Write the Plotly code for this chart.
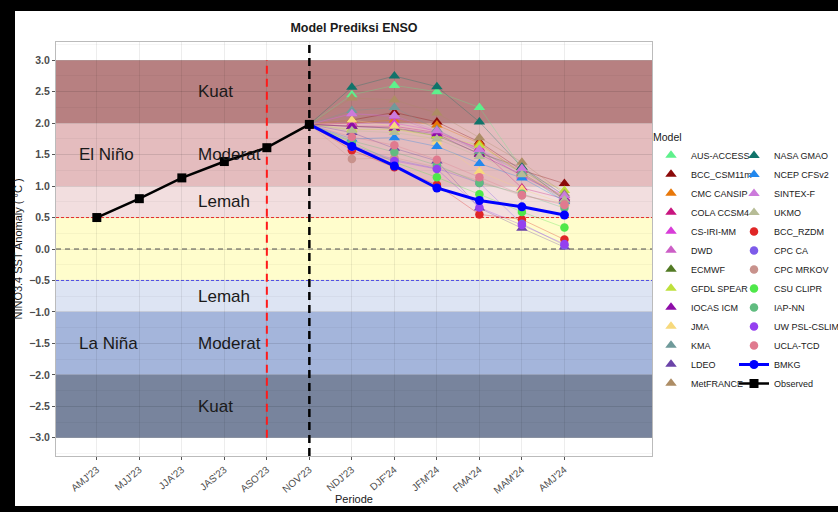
import plotly.graph_objects as go

# ---------------- data ----------------
periods = ["AMJ'23", "MJJ'23", "JJA'23", "JAS'23", "ASO'23", "NOV'23",
           "NDJ'23", "DJF'24", "JFM'24", "FMA'24", "MAM'24", "AMJ'24"]
observed_periods = periods[:6]
forecast_periods = periods[6:]

observed = [0.50, 0.80, 1.13, 1.39, 1.61, 1.98]
bmkg = [1.63, 1.32, 0.97, 0.77, 0.67, 0.54]

aus_access = [2.45, 2.60, 2.50, 2.25, 1.28, 0.80]
bcc_csm11m = [2.05, 2.17, 2.02, 1.70, 1.25, 1.04]
cmc_cansip = [2.00, 2.05, 1.97, 1.68, 1.20, 0.82]
cola_ccsm4 = [1.95, 1.95, 1.85, 1.60, 0.97, 0.80]
cs_iri_mm = [2.00, 2.00, 1.88, 1.58, 1.15, 0.85]
dwd = [2.15, 2.10, 1.85, 1.55, 1.25, 0.82]
ecmwf = [1.95, 1.92, 1.80, 1.52, 1.30, 0.78]
gfdl_spear = [1.90, 1.90, 1.80, 1.65, 1.22, 0.93]
iocas_icm = [1.95, 1.92, 1.83, 1.50, 1.18, 0.80]
jma = [2.05, 1.95, 1.70, 1.23, 0.95, 0.72]
kma = [2.20, 2.25, 1.90, 1.55, 1.22, 0.75]
ldeo = [1.85, 1.60, 1.40, 0.65, 0.33, 0.03]
metfrance = [2.40, 2.37, 2.16, 1.77, 1.38, 0.88]
nasa_gmao = [2.57, 2.75, 2.58, 2.02, 1.30, 0.85]
ncep_cfsv2 = [1.75, 1.77, 1.63, 1.36, 1.13, 0.76]
sintex_f = [2.15, 2.12, 1.88, 1.58, 1.28, 0.85]
ukmo = [1.88, 1.85, 1.75, 1.47, 1.18, 0.78]
bcc_rzdm = [1.57, 1.30, 1.02, 0.55, 0.47, 0.15]
cpc_ca = [1.65, 1.42, 1.28, 1.05, 0.40, 0.06]
cpc_mrkov = [1.43, 1.45, 1.30, 1.08, 0.85, 0.72]
csu_clipr = [1.70, 1.38, 1.14, 0.87, 0.59, 0.34]
iap_nn = [1.72, 1.54, 1.33, 1.05, 0.88, 0.65]
uw_psl_cslim = [1.62, 1.40, 1.27, 0.66, 0.38, 0.08]
ucla_tcd = [1.78, 1.65, 1.42, 1.14, 0.86, 0.70]

model_names = ["AUS-ACCESS", "BCC_CSM11m", "CMC CANSIP", "COLA CCSM4", "CS-IRI-MM",
               "DWD", "ECMWF", "GFDL SPEAR", "IOCAS ICM", "JMA", "KMA", "LDEO",
               "MetFRANCE", "NASA GMAO", "NCEP CFSv2", "SINTEX-F", "UKMO",
               "BCC_RZDM", "CPC CA", "CPC MRKOV", "CSU CLIPR", "IAP-NN",
               "UW PSL-CSLIM", "UCLA-TCD"]
model_values = [aus_access, bcc_csm11m, cmc_cansip, cola_ccsm4, cs_iri_mm, dwd, ecmwf,
                gfdl_spear, iocas_icm, jma, kma, ldeo, metfrance, nasa_gmao, ncep_cfsv2,
                sintex_f, ukmo, bcc_rzdm, cpc_ca, cpc_mrkov, csu_clipr, iap_nn,
                uw_psl_cslim, ucla_tcd]

# ---------------- styles ----------------
model_colors = {
    "AUS-ACCESS": "#5EF08C", "BCC_CSM11m": "#8B0A0A", "CMC CANSIP": "#E8780A",
    "COLA CCSM4": "#C8157F", "CS-IRI-MM": "#D83CD8", "DWD": "#CC5EC6",
    "ECMWF": "#527A24", "GFDL SPEAR": "#BEE03C", "IOCAS ICM": "#8E0CA8",
    "JMA": "#F7D97C", "KMA": "#6F9A9A", "LDEO": "#6B43A8", "MetFRANCE": "#AD8D65",
    "NASA GMAO": "#10736A", "NCEP CFSv2": "#2288EE", "SINTEX-F": "#CC7ADB",
    "UKMO": "#B6BC96", "BCC_RZDM": "#E02626", "CPC CA": "#7D5BEA",
    "CPC MRKOV": "#C8928C", "CSU CLIPR": "#4FE84A", "IAP-NN": "#60BC80",
    "UW PSL-CSLIM": "#9540F0", "UCLA-TCD": "#E07A8F",
}
circle_models = {"BCC_RZDM", "CPC CA", "CPC MRKOV", "CSU CLIPR", "IAP-NN",
                 "UW PSL-CSLIM", "UCLA-TCD"}

FONT = "Liberation Sans, Arial, Helvetica, sans-serif"
W, H = 838, 512
ML, MR, MT, MB = 56, 186, 42, 56
PW, PH = W - ML - MR, H - MT - MB


def px_x(px):
    return (px - ML) / PW


def px_y(py):
    return (H - MB - py) / PH


fig = go.Figure()

# thin model lines from last observed point
for name, vals in zip(model_names, model_values):
    fig.add_trace(go.Scatter(
        x=[periods[5]] + forecast_periods, y=[observed[-1]] + vals,
        mode="lines", line=dict(color=model_colors[name], width=0.8),
        opacity=0.4, showlegend=False, hoverinfo="skip"))

# model markers
for i, (name, vals) in enumerate(zip(model_names, model_values)):
    is_circle = name in circle_models
    fig.add_trace(go.Scatter(
        x=forecast_periods, y=vals, mode="markers", name=name,
        marker=dict(color=model_colors[name],
                    symbol="circle" if is_circle else "triangle-up",
                    size=8.5 if is_circle else 10, line=dict(width=0)),
        legend="legend" if i < 13 else "legend2"))

fig.add_trace(go.Scatter(
    x=[periods[5]] + forecast_periods, y=[observed[-1]] + bmkg,
    mode="lines+markers", name="BMKG",
    line=dict(color="#0000FF", width=3),
    marker=dict(color="#0000FF", size=9, symbol="circle"),
    legend="legend2"))

fig.add_trace(go.Scatter(
    x=observed_periods, y=observed, mode="lines+markers", name="Observed",
    line=dict(color="#000000", width=2.5),
    marker=dict(color="#000000", size=9, symbol="square"),
    legend="legend2"))

# ---------------- shapes ----------------
shapes = []
# white frame inside black border (left, top, bottom)
shapes.append(dict(type="rect", xref="paper", yref="paper",
                   x0=px_x(15), x1=px_x(840), y0=px_y(506), y1=px_y(11),
                   fillcolor="white", line=dict(width=0), layer="below"))
bands = [(2, 3, "#B78081"), (1, 2, "#E4BCBE"), (0.5, 1, "#F2DEDF"),
         (-0.5, 0.5, "#FFFDCC"), (-1, -0.5, "#DDE4F3"), (-2, -1, "#A4B5DB"),
         (-3, -2, "#78849D")]
for y0, y1, c in bands:
    shapes.append(dict(type="rect", xref="paper", yref="y", x0=0, x1=1, y0=y0, y1=y1,
                       fillcolor=c, line=dict(width=0), layer="below"))
shapes.append(dict(type="line", xref="paper", yref="y", x0=0, x1=1, y0=0.5, y1=0.5,
                   line=dict(color="#FF3030", width=1, dash="3px,2px"), layer="between"))
shapes.append(dict(type="line", xref="paper", yref="y", x0=0, x1=1, y0=0, y1=0,
                   line=dict(color="#555555", width=1.2, dash="5px,4px"), layer="between"))
shapes.append(dict(type="line", xref="paper", yref="y", x0=0, x1=1, y0=-0.5, y1=-0.5,
                   line=dict(color="#5555FF", width=1, dash="3px,2px"), layer="between"))
shapes.append(dict(type="line", xref="x", yref="y", x0="ASO'23", x1="ASO'23", y0=-3, y1=3,
                   line=dict(color="#FF1A1A", width=2, dash="8px,5px"), layer="between"))
shapes.append(dict(type="line", xref="x", yref="paper", x0="NOV'23", x1="NOV'23", y0=0, y1=1,
                   line=dict(color="#000000", width=2.5, dash="8px,5px"), layer="between"))

# ---------------- labels ----------------
labels = [("Kuat", 2.33, 2.5), ("El Niño", -0.47, 1.5), ("Moderat", 2.33, 1.5),
          ("Lemah", 2.33, 0.75), ("Lemah", 2.33, -0.75), ("La Niña", -0.47, -1.5),
          ("Moderat", 2.33, -1.5), ("Kuat", 2.33, -2.5)]
annotations = [dict(text=t, x=x, y=y, xref="x", yref="y", xanchor="left",
                    yanchor="middle", showarrow=False,
                    font=dict(family=FONT, size=17, color="#1A1A1A"))
               for t, x, y in labels]

fig.update_layout(
    width=W, height=H,
    margin=dict(l=ML, r=MR, t=MT, b=MB, autoexpand=False),
    paper_bgcolor="#000000", plot_bgcolor="#FFFFFF",
    font=dict(family=FONT, color="#1A1A1A"),
    title=dict(text="<b>Model Prediksi ENSO</b>", x=0.5, xref="paper",
               y=1 - 28 / H, yref="container", yanchor="middle",
               font=dict(family=FONT, size=12.5, color="#1A1A1A")),
    shapes=shapes, annotations=annotations,
    showlegend=True,
    legend=dict(x=px_x(651), y=px_y(127), xanchor="left", yanchor="top",
                bgcolor="rgba(0,0,0,0)", itemwidth=30, tracegroupgap=0,
                title=dict(text="Model", font=dict(family=FONT, size=10.5, color="#1A1A1A")),
                font=dict(family=FONT, size=9, color="#1A1A1A")),
    legend2=dict(x=px_x(734), y=px_y(141), xanchor="left", yanchor="top",
                 bgcolor="rgba(0,0,0,0)", itemwidth=30, tracegroupgap=0,
                 font=dict(family=FONT, size=9, color="#1A1A1A")),
)

fig.update_xaxes(
    type="category", categoryorder="array", categoryarray=periods,
    range=[-0.96, 13.06], tickangle=-40,
    tickfont=dict(family=FONT, size=10, color="#4D4D4D"),
    ticks="outside", ticklen=3, tickcolor="#555555", tickwidth=0.6,
    showgrid=True, gridcolor="rgba(0,0,0,0.07)", gridwidth=1,
    showline=True, mirror=True, linecolor="#BBBBBB", linewidth=1,
    zeroline=False,
    title=dict(text="Periode", standoff=0, font=dict(family=FONT, size=11, color="#1A1A1A")),
)
fig.update_yaxes(
    range=[-3.29, 3.29], tickmode="array",
    tickvals=[3, 2.5, 2, 1.5, 1, 0.5, 0, -0.5, -1, -1.5, -2, -2.5, -3],
    tickformat=".1f",
    tickfont=dict(family=FONT, size=10.5, color="#4D4D4D", weight="bold"),
    ticks="outside", ticklen=3, tickcolor="#555555", tickwidth=0.6,
    showgrid=True, gridcolor="rgba(0,0,0,0.07)", gridwidth=1,
    minor=dict(showgrid=True, gridcolor="rgba(0,0,0,0.035)", dtick=0.25, tick0=0),
    showline=True, mirror=True, linecolor="#BBBBBB", linewidth=1,
    zeroline=False,
    title=dict(text="NINO3.4 SST Anomaly ( °C )", standoff=4,
               font=dict(family=FONT, size=11, color="#1A1A1A")),
)

fig.write_html("out.html", config={"displayModeBar": False},
               post_script="document.body.style.margin='0px';document.body.style.padding='0px';")
